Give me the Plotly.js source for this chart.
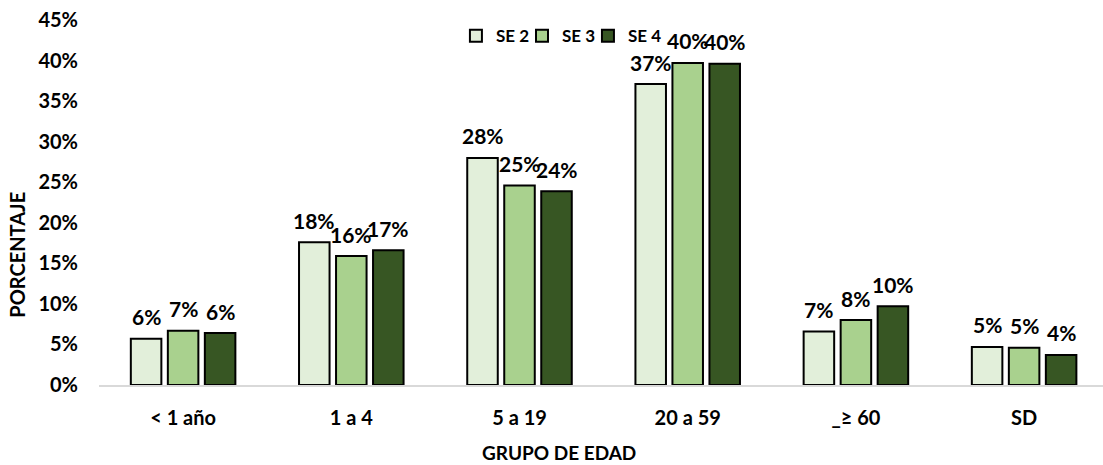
<!DOCTYPE html>
<html>
<head>
<meta charset="utf-8">
<script src="https://cdn.plot.ly/plotly-3.0.1.min.js"></script>
<style>html,body{margin:0;padding:0;background:#fff;}#chart{width:1103px;height:465px;}</style>
</head>
<body>
<div id="chart"></div>
<script>
const categories = ["< 1 año", "1 a 4", "5 a 19", "20 a 59", "_≥ 60", "SD"];
const seriesNames = ["SE 2", "SE 3", "SE 4"];
const se2 = [0.057, 0.176, 0.280, 0.371, 0.066, 0.047];
const se3 = [0.067, 0.159, 0.246, 0.397, 0.080, 0.046];
const se4 = [0.064, 0.166, 0.239, 0.396, 0.097, 0.037];
const yTickVals = [0, 0.05, 0.10, 0.15, 0.20, 0.25, 0.30, 0.35, 0.40, 0.45];
const yTickText = ["0%", "5%", "10%", "15%", "20%", "25%", "30%", "35%", "40%", "45%"];
const colors = ["#e2efda", "#a9d18e", "#375623"];

const FONT = "Lato, 'Open Sans', sans-serif";
const allSeries = [se2, se3, se4];
const legendIds = ["legend", "legend2", "legend3"];
const data = allSeries.map((vals, i) => ({
  type: "bar",
  name: seriesNames[i],
  legend: legendIds[i],
  x: categories,
  y: vals,
  marker: {color: colors[i], line: {color: "#000000", width: 2}},
  hoverinfo: "none"
}));

// data labels placed through the axes (category + value), offset to each bar slot
const slotPx = 37;
const labelAnns = [];
allSeries.forEach((vals, i) => {
  vals.forEach((v, j) => {
    labelAnns.push({
      x: categories[j], y: v, xref: "x", yref: "y",
      text: Math.round(v * 100) + "%",
      showarrow: false, xanchor: "center", yanchor: "middle",
      xshift: (i - 1) * slotPx, yshift: 22,
      font: {family: FONT, size: 21, color: "#000", weight: "bold"}
    });
  });
});

function legendBox(x) {
  return {
    orientation: "h", x: x, xanchor: "left", y: 1.005, yanchor: "top",
    font: {family: FONT, size: 17, color: "#000", weight: "bold"},
    bgcolor: "rgba(0,0,0,0)", itemwidth: 30
  };
}

const layout = {
  width: 1103, height: 465,
  margin: {l: 99, r: 0, t: 20, b: 80},
  paper_bgcolor: "#fff", plot_bgcolor: "#fff",
  font: {family: FONT, color: "#000"},
  barmode: "group",
  bargap: 0.34,
  bargroupgap: 0.175,
  showlegend: true,
  legend: legendBox(0.3555),
  legend2: legendBox(0.4213),
  legend3: legendBox(0.4870),
  xaxis: {
    type: "category",
    range: [-0.5, 5.469],
    showgrid: false, zeroline: false,
    showline: true, linecolor: "#d9d9d9", linewidth: 2,
    ticks: "", ticklabelstandoff: 14,
    tickfont: {family: FONT, size: 20, color: "#000", weight: "bold"},
    fixedrange: true
  },
  yaxis: {
    range: [0, 0.45],
    tickvals: yTickVals, ticktext: yTickText,
    showgrid: false, zeroline: false, showline: false,
    ticks: "", ticklabelstandoff: 20,
    tickfont: {family: FONT, size: 20, color: "#000", weight: "bold"},
    fixedrange: true
  },
  annotations: labelAnns.concat([
    {text: "PORCENTAJE", xref: "paper", yref: "paper", x: -0.082, y: 0.356,
     xanchor: "center", yanchor: "middle", textangle: -90, showarrow: false,
     font: {family: FONT, size: 20, color: "#000", weight: "bold"}},
    {text: "GRUPO DE EDAD", xref: "paper", yref: "paper", x: 0.458, y: -0.186,
     xanchor: "center", yanchor: "middle", showarrow: false,
     font: {family: FONT, size: 19, color: "#000", weight: "bold"}}
  ])
};

Plotly.newPlot("chart", data, layout, {displayModeBar: false, staticPlot: true});
</script>
</body>
</html>
